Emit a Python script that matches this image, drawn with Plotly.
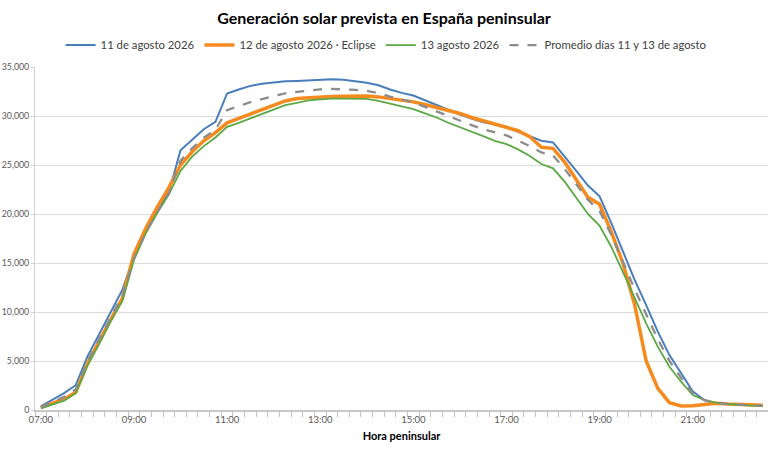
import plotly.graph_objects as go

# horas cada 15 minutos (hora peninsular)
horas = [
    "07:00", "07:15", "07:30", "07:45", "08:00", "08:15", "08:30", "08:45",
    "09:00", "09:15", "09:30", "09:45", "10:00", "10:15", "10:30", "10:45",
    "11:00", "11:15", "11:30", "11:45", "12:00", "12:15", "12:30", "12:45",
    "13:00", "13:15", "13:30", "13:45", "14:00", "14:15", "14:30", "14:45",
    "15:00", "15:15", "15:30", "15:45", "16:00", "16:15", "16:30", "16:45",
    "17:00", "17:15", "17:30", "17:45", "18:00", "18:15", "18:30", "18:45",
    "19:00", "19:15", "19:30", "19:45", "20:00", "20:15", "20:30", "20:45",
    "21:00", "21:15", "21:30", "21:45", "22:00", "22:15", "22:30",
]

# MW previstos
dia_11 = [
    370, 1050, 1720, 2530, 5450, 7700, 9950, 12250,
    15600, 18100, 20300, 22200, 26500, 27550, 28650, 29400,
    32300, 32700, 33070, 33300, 33440, 33540, 33580, 33640,
    33750, 33750, 33710, 33580, 33400, 33140, 32700, 32360,
    32090, 31610, 31100, 30600, 30150, 29750, 29370, 29160,
    28900, 28390, 27950, 27470, 27300, 25900, 24400, 22900,
    21800, 19100, 16200, 13300, 10700, 8000, 5600, 3700,
    1900, 1000, 650, 600, 550, 500, 480,
]
dia_12 = [
    270, 650, 1100, 1800, 4700, 7000, 9200, 11400,
    15900, 18500, 20700, 22700, 25000, 26350, 27470, 28300,
    29300, 29750, 30150, 30600, 31100, 31540, 31780, 31880,
    31950, 32000, 32020, 32040, 32050, 31950, 31780, 31610,
    31440, 31170, 30870, 30600, 30260, 29850, 29510, 29240,
    28900, 28500, 27900, 26800, 26700, 25300, 23500, 21700,
    21000, 18200, 15000, 10800, 5000, 2200, 750, 420,
    430, 580, 680, 600, 550, 500, 480,
]
dia_13 = [
    170, 550, 950, 1720, 4500, 6700, 9050, 11100,
    15300, 18000, 20100, 22000, 24400, 25850, 26930, 27810,
    28900, 29300, 29750, 30150, 30660, 31100, 31340, 31600,
    31700, 31780, 31780, 31750, 31750, 31540, 31270, 31000,
    30700, 30260, 29850, 29310, 28830, 28390, 27950, 27470,
    27130, 26590, 25910, 25100, 24660, 23300, 21600, 20000,
    18800, 16660, 14100, 11400, 8840, 6460, 4420, 2890,
    1530, 1020, 750, 610, 510, 440, 410,
]
promedio = [
    270, 800, 1335, 2125, 4975, 7200, 9500, 11675,
    15450, 18050, 20200, 22100, 25450, 26700, 27790, 28605,
    30600, 31000, 31410, 31725, 32050, 32320, 32460, 32620,
    32725, 32765, 32745, 32665, 32575, 32340, 31985, 31680,
    31395, 30935, 30475, 29955, 29490, 29070, 28660, 28315,
    28015, 27490, 26930, 26285, 25980, 24600, 23000, 21450,
    20300, 17880, 15150, 12350, 9770, 7230, 5010, 3295,
    1715, 1010, 700, 605, 530, 470, 445,
]

etiquetas_x = ["07:00", "09:00", "11:00", "13:00", "15:00", "17:00", "19:00", "21:00"]

dia = "2026-08-12 "
x = [dia + h for h in horas]

fig = go.Figure()
fig.add_trace(go.Scatter(x=x, y=dia_11, mode="lines", name="11 de agosto 2026",
                         line=dict(color="#4a7ebb", width=2)))
fig.add_trace(go.Scatter(x=x, y=dia_12, mode="lines", name="12 de agosto 2026 · Eclipse",
                         line=dict(color="#f58a1f", width=3.5)))
fig.add_trace(go.Scatter(x=x, y=dia_13, mode="lines", name="13 agosto 2026",
                         line=dict(color="#5ca845", width=1.8)))
fig.add_trace(go.Scatter(x=x, y=promedio, mode="lines", name="Promedio días 11 y 13 de agosto",
                         line=dict(color="#8c8c8c", width=2.3, dash="dash")))

fig.update_layout(
    width=768, height=456,
    margin=dict(l=35, r=0, t=67, b=46),
    paper_bgcolor="white", plot_bgcolor="white",
    font=dict(family="Lato, Open Sans, sans-serif", color="#595959", size=10),
    title=dict(text="<b>Generación solar prevista en España peninsular</b>",
               x=0.5, xref="container", xanchor="center", y=0.9605, yanchor="middle",
               font=dict(size=16, color="#000000")),
    legend=dict(orientation="h", x=0.479, xanchor="center",
                y=1.064, yanchor="middle",
                font=dict(size=11.3, color="#404040"), itemwidth=30,
                bgcolor="rgba(0,0,0,0)"),
    showlegend=True,
)

fig.update_xaxes(
    type="date",
    range=[dia + "06:52:30", dia + "22:37"],
    tickmode="array",
    tickvals=[dia + h for h in etiquetas_x],
    ticktext=etiquetas_x,
    ticks="", showgrid=False,
    showline=True, linecolor="#c8c8c8", linewidth=1.5,
    tickfont=dict(size=9.5, color="#595959"),
    minor=dict(ticks="outside", ticklen=5, tickcolor="#c0c0c0",
               tick0=dia + "06:52:30", dtick=900000, showgrid=False),
    title=dict(text="<b>Hora peninsular</b>", font=dict(size=11, color="#000000"), standoff=8),
    zeroline=False, automargin=False,
)
fig.update_yaxes(
    range=[0, 35000], dtick=5000, tickformat=",",
    showgrid=True, gridcolor="#dcdcdc", gridwidth=1,
    showline=True, linecolor="#d0d0d0", linewidth=1,
    ticks="outside", ticklen=3, tickcolor="#d0d0d0",
    tickfont=dict(size=8.8, color="#595959"),
    zeroline=False, automargin=False,
)

# quitar el margen por defecto de la página para que el gráfico empiece en la esquina
fig.write_html("out.html", config={"displayModeBar": False},
               post_script="document.body.style.margin='0';")
